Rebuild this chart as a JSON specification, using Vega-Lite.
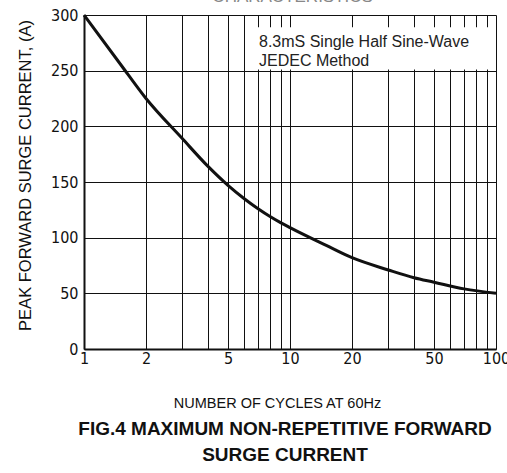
{
  "$schema": "https://vega.github.io/schema/vega-lite/v6.json",
  "autosize": "none",
  "width": 412,
  "height": 334,
  "padding": {"left": 84, "top": 15, "right": 11, "bottom": 124},
  "background": "white",
  "config": {
    "view": {"stroke": null},
    "font": "Liberation Sans",
    "axis": {"labelFont": "Liberation Sans Narrow, DejaVu Sans Condensed, Liberation Sans", "titleFont": "Liberation Sans", "labelColor": "#111", "titleColor": "#111"}
  },
  "title": {
    "text": ["FIG.4 MAXIMUM NON-REPETITIVE FORWARD", "SURGE CURRENT"],
    "orient": "bottom",
    "anchor": "middle",
    "frame": "group",
    "font": "Liberation Sans",
    "fontSize": 19,
    "fontWeight": "bold",
    "lineHeight": 26,
    "color": "#111",
    "dx": -5,
    "offset": 10
  },
  "layer": [
    {
      "data": {
        "values": [
          {"cycles": 1, "current": 300},
          {"cycles": 1.5, "current": 256},
          {"cycles": 2, "current": 225},
          {"cycles": 3, "current": 189},
          {"cycles": 4, "current": 164},
          {"cycles": 5, "current": 147},
          {"cycles": 6, "current": 135},
          {"cycles": 7, "current": 126},
          {"cycles": 8, "current": 119},
          {"cycles": 9, "current": 113.5},
          {"cycles": 10, "current": 109},
          {"cycles": 15, "current": 93},
          {"cycles": 20, "current": 82},
          {"cycles": 30, "current": 71},
          {"cycles": 40, "current": 64},
          {"cycles": 50, "current": 60},
          {"cycles": 70, "current": 54},
          {"cycles": 100, "current": 50}
        ]
      },
      "mark": {"type": "line", "color": "#111", "strokeWidth": 3, "interpolate": "monotone"},
      "encoding": {
        "x": {
          "field": "cycles", "type": "quantitative",
          "scale": {"type": "log", "domain": [1, 100], "nice": false},
          "axis": {
            "values": [1,2,3,4,5,6,7,8,9,10,20,30,40,50,60,70,80,90,100],
            "labelExpr": "indexof([1,2,5,10,20,50,100], datum.value) >= 0 ? format(datum.value, 'd') : ''",
            "labelFontSize": 16,
            "labelPadding": 1,
            "labelFlush": false,
            "labelOverlap": false,
            "labelBound": false,
            "ticks": false,
            "grid": true,
            "gridColor": "#111",
            "gridWidth": 1,
            "gridOpacity": 1,
            "domainColor": "#111",
            "domainWidth": 2,
            "title": "NUMBER OF CYCLES AT 60Hz",
            "titleFontSize": 14.5,
            "titleFontWeight": "normal",
            "titleX": 193,
            "titleY": 54,
            "titleAnchor": null,
            "titleAlign": "center",
            "titleBaseline": "middle"
          }
        },
        "y": {
          "field": "current", "type": "quantitative",
          "scale": {"domain": [0, 300], "nice": false},
          "axis": {
            "values": [0, 50, 100, 150, 200, 250, 300],
            "labelFontSize": 16,
            "labelPadding": 6,
            "labelBaseline": "middle",
            "ticks": false,
            "grid": true,
            "gridColor": "#111",
            "gridWidth": 1,
            "gridOpacity": 1,
            "domainColor": "#111",
            "domainWidth": 2,
            "title": "PEAK  FORWARD SURGE CURRENT, (A)",
            "titleFontSize": 16.5,
            "titleFontWeight": "normal",
            "titleX": -59,
            "titleY": 160,
            "titleAngle": 270,
            "titleAlign": "center",
            "titleBaseline": "middle"
          }
        }
      }
    },
    {
      "data": {"values": [{"box": "legend"}]},
      "mark": {"type": "rect", "color": "white", "opacity": 1},
      "encoding": {
        "x": {"datum": 6.4, "type": "quantitative"},
        "x2": {"datum": 93.5},
        "y": {"datum": 251, "type": "quantitative"},
        "y2": {"datum": 289}
      }
    },
    {
      "data": {"values": [{"line": "8.3mS Single Half Sine-Wave"}]},
      "mark": {"type": "text", "align": "left", "baseline": "middle", "font": "Liberation Sans", "fontSize": 16, "color": "#222"},
      "encoding": {
        "x": {"datum": 7.07, "type": "quantitative"},
        "y": {"datum": 275.7, "type": "quantitative"},
        "text": {"field": "line"}
      }
    },
    {
      "data": {"values": [{"line": "JEDEC Method"}]},
      "mark": {"type": "text", "align": "left", "baseline": "middle", "font": "Liberation Sans", "fontSize": 16, "color": "#222"},
      "encoding": {
        "x": {"datum": 7.07, "type": "quantitative"},
        "y": {"datum": 258.7, "type": "quantitative"},
        "text": {"field": "line"}
      }
    },
    {
      "data": {"values": [{"line": "CHARACTERISTICS"}]},
      "mark": {"type": "text", "align": "center", "baseline": "alphabetic", "font": "Liberation Sans", "fontSize": 17, "color": "#888"},
      "encoding": {
        "x": {"datum": 10.3, "type": "quantitative"},
        "y": {"datum": 312, "type": "quantitative"},
        "text": {"field": "line"}
      }
    }
  ]
}
